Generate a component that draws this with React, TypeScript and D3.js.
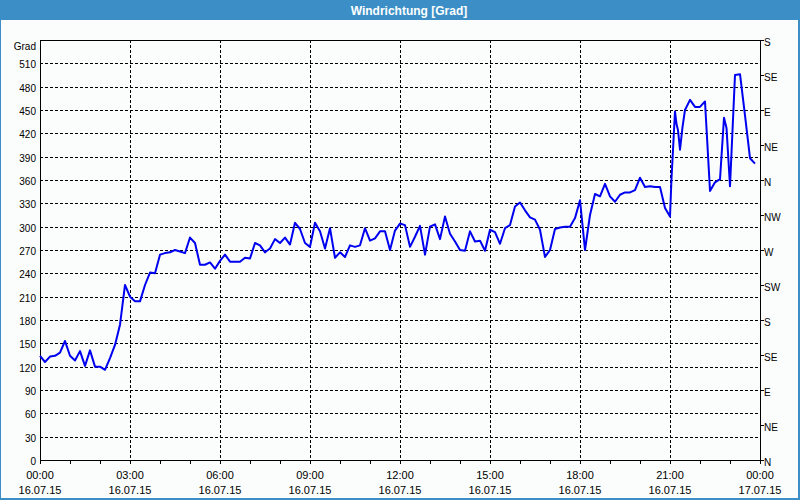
import React from "react";
import * as d3 from "d3";

// Wind direction readings, every 10 minutes from 00:00 to 21:00 (16.07.15)
const regularValues: number[] = [
  134, 126, 133, 134, 138, 153, 134, 128, 140, 121,
  141, 120, 120, 116, 131, 148, 174, 225, 210, 204,
  204, 225, 241, 240, 264, 266, 267, 270, 268, 266,
  286, 279, 251, 251, 254, 246, 256, 264, 255, 255,
  255, 260, 259, 279, 276, 267, 272, 284, 279, 286,
  277, 305, 297, 279, 274, 305, 294, 272, 298, 260,
  267, 261, 276, 274, 276, 298, 282, 285, 294, 294,
  270, 295, 304, 302, 274, 287, 301, 264, 300, 303,
  284, 313, 291, 281, 270, 269, 294, 281, 282, 269,
  296, 293, 278, 298, 302, 326, 331, 321, 312, 309,
  296, 261, 270, 297, 299, 300, 300, 311, 334, 270,
  315, 342, 339, 355, 339, 332, 341, 344, 344, 347,
  363, 351, 352, 351, 351, 324, 313,
];
const regularStepMinutes = 10;

// Later readings (minutes after midnight) with irregular spacing
const lateMinutes: number[] = [
  1263, 1270, 1273, 1276, 1280, 1285, 1290, 1300, 1310, 1320, 1330,
  1340, 1350, 1360, 1368, 1373, 1380, 1390, 1400, 1410, 1420, 1430,
];
const lateValues: number[] = [
  362, 448, 432, 424, 399, 428, 450, 463, 454, 454, 461,
  346, 357, 361, 440, 427, 352, 495, 496, 443, 388, 381,
];

const yTicks: number[] = [0, 30, 60, 90, 120, 150, 180, 210, 240, 270, 300, 330, 360, 390, 420, 450, 480, 510];
const compassTicks: number[] = [0, 45, 90, 135, 180, 225, 270, 315, 360, 405, 450, 495, 540];
const compassLabels: string[] = ["N", "NE", "E", "SE", "S", "SW", "W", "NW", "N", "NE", "E", "SE", "S"];
const xMajorMinutes: number[] = [0, 180, 360, 540, 720, 900, 1080, 1260, 1440];
const xTimeLabels: string[] = ["00:00", "03:00", "06:00", "09:00", "12:00", "15:00", "18:00", "21:00", "00:00"];
const xDateLabels: string[] = ["16.07.15", "16.07.15", "16.07.15", "16.07.15", "16.07.15", "16.07.15", "16.07.15", "16.07.15", "17.07.15"];

const title = "Windrichtung [Grad]";
const yUnit = "Grad";

export default function App() {
  const W = 800;
  const H = 500;
  const left = 40;
  const right = 760;
  const top = 40;
  const bottom = 460;

  const x = d3.scaleLinear().domain([0, 1440]).range([left, right]);
  const y = d3.scaleLinear().domain([0, 540]).range([bottom, top]);

  const data: [number, number][] = [
    ...regularValues.map((v, i) => [i * regularStepMinutes, v] as [number, number]),
    ...lateMinutes.map((m, i) => [m, lateValues[i]] as [number, number]),
  ];

  const line = d3
    .line<[number, number]>()
    .x((d) => x(d[0]))
    .y((d) => y(d[1]));

  const px = (v: number) => Math.round(v) + 0.5;
  const hourTicks = d3.range(0, 1441, 60);
  const font = "'Liberation Sans', Arial, sans-serif";

  return (
    <svg
      width={W}
      height={H}
      style={{ position: "absolute", left: 0, top: 0, display: "block" }}
      fontFamily={font}
    >
      <rect x={0} y={0} width={W} height={H} fill="#3b8fc6" />
      <rect x={1} y={20} width={797} height={478} fill="#fbfdfc" />
      <text
        x={409}
        y={11}
        fill="#ffffff"
        fontSize={12}
        fontWeight="bold"
        textAnchor="middle"
        dominantBaseline="central"
      >
        {title}
      </text>

      {/* horizontal grid */}
      {yTicks
        .filter((t) => t > 0)
        .map((t) => (
          <line
            key={"hg" + t}
            x1={left}
            x2={right}
            y1={px(y(t))}
            y2={px(y(t))}
            stroke="#000"
            strokeWidth={1}
            strokeDasharray="3,2"
          />
        ))}
      {/* vertical grid */}
      {xMajorMinutes
        .filter((m) => m > 0 && m < 1440)
        .map((m) => (
          <line
            key={"vg" + m}
            x1={px(x(m))}
            x2={px(x(m))}
            y1={top}
            y2={bottom}
            stroke="#000"
            strokeWidth={1}
            strokeDasharray="3,2"
          />
        ))}

      {/* frame */}
      <line x1={left} x2={right + 1} y1={px(top)} y2={px(top)} stroke="#000" />
      <line x1={px(left)} x2={px(left)} y1={top} y2={bottom + 1} stroke="#000" />
      <line x1={px(right)} x2={px(right)} y1={top} y2={bottom + 1} stroke="#000" />
      <line x1={left} x2={right + 1} y1={px(bottom)} y2={px(bottom)} stroke="#000" />

      {/* hour ticks */}
      {hourTicks.map((m) => (
        <line key={"ht" + m} x1={px(x(m))} x2={px(x(m))} y1={bottom} y2={bottom + 4} stroke="#000" />
      ))}
      {/* compass ticks */}
      {compassTicks.map((t) => (
        <line key={"ct" + t} x1={right} x2={right + 4} y1={px(y(t))} y2={px(y(t))} stroke="#000" />
      ))}

      {/* y labels */}
      <text x={36} y={46} fontSize={10} textAnchor="end" dominantBaseline="central" fill="#000">
        {yUnit}
      </text>
      {yTicks.map((t) => (
        <text
          key={"yl" + t}
          x={36}
          y={y(t) + 1.5}
          fontSize={10}
          textAnchor="end"
          dominantBaseline="central"
          fill="#000"
        >
          {t}
        </text>
      ))}
      {compassTicks.map((t, i) => (
        <text
          key={"cl" + t}
          x={764}
          y={y(t) + 2}
          fontSize={10}
          textAnchor="start"
          dominantBaseline="central"
          fill="#000"
        >
          {compassLabels[i]}
        </text>
      ))}

      {/* x labels */}
      {xMajorMinutes.map((m, i) => (
        <g key={"xl" + m}>
          <text x={x(m)} y={479} fontSize={11} textAnchor="middle" fill="#000">
            {xTimeLabels[i]}
          </text>
          <text x={x(m)} y={493.5} fontSize={11} textAnchor="middle" fill="#000">
            {xDateLabels[i]}
          </text>
        </g>
      ))}

      {/* data line */}
      <path d={line(data) || ""} fill="none" stroke="#0000f0" strokeWidth={2} strokeLinejoin="round" />
    </svg>
  );
}
